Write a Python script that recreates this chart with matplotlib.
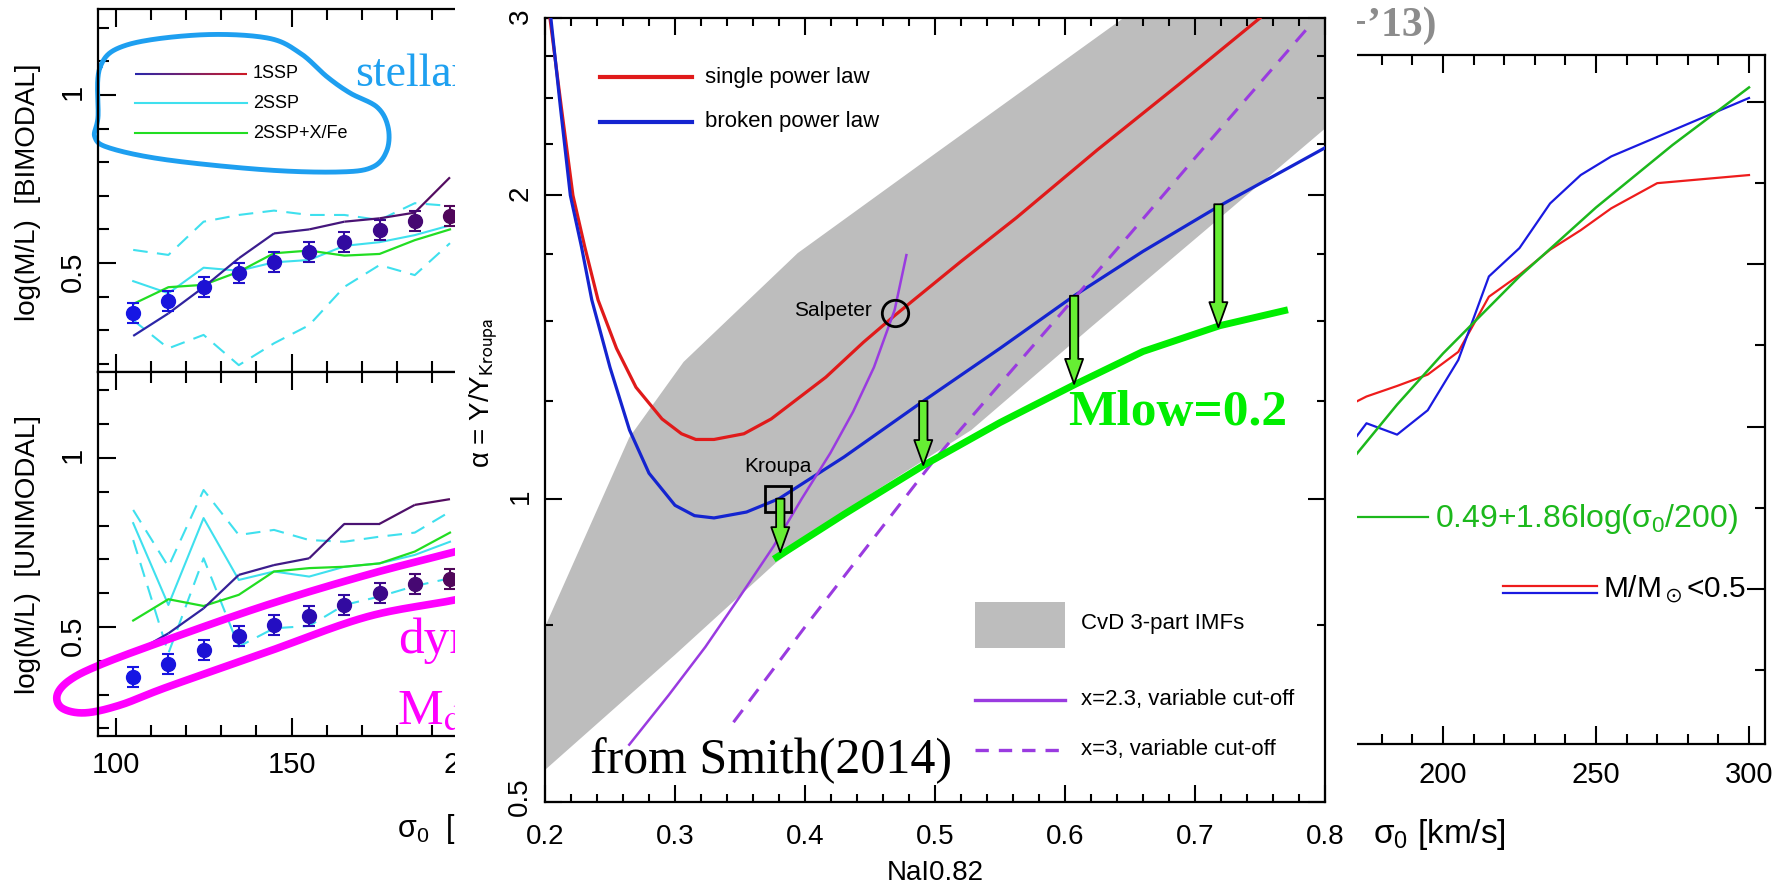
import numpy as np
import matplotlib
matplotlib.use('Agg')
import matplotlib.pyplot as plt
from matplotlib.transforms import Affine2D
from matplotlib.lines import Line2D
from matplotlib.patches import Rectangle
from matplotlib.collections import LineCollection
from matplotlib.ticker import FixedLocator, FixedFormatter

W, H = 1791, 890
plt.rcParams['font.family'] = ['Liberation Sans', 'DejaVu Sans']
plt.rcParams['mathtext.fontset'] = 'dejavusans'
plt.rcParams['mathtext.default'] = 'regular'

# ---------------- left panels (log M/L vs sigma0) ----------------
sigma_bins = [105, 115, 125, 135, 145, 155, 165, 175, 185, 195]
dot_colors = ['#1616e4', '#1814de', '#1c12d4', '#2010cc', '#240ec2', '#2a0cb2',
              '#320aa0', '#3c088a', '#460872', '#50065a']
dot_err = 0.03
bim_dots = [0.350, 0.387, 0.429, 0.471, 0.504, 0.532, 0.563, 0.598, 0.625, 0.640]
bim_1ssp = [0.283, 0.350, 0.428, 0.514, 0.588, 0.600, 0.623, 0.633, 0.650, 0.755]
bim_2ssp = [0.446, 0.410, 0.486, 0.477, 0.502, 0.509, 0.551, 0.562, 0.583, 0.612]
bim_2ssp_hi = [0.539, 0.524, 0.623, 0.643, 0.656, 0.643, 0.643, 0.628, 0.678, 0.670]
bim_2ssp_lo = [0.330, 0.246, 0.286, 0.196, 0.261, 0.315, 0.429, 0.494, 0.464, 0.559]
bim_xfe = [0.378, 0.428, 0.435, 0.474, 0.529, 0.537, 0.522, 0.527, 0.568, 0.600]

uni_dots = [0.353, 0.390, 0.432, 0.474, 0.506, 0.533, 0.565, 0.601, 0.627, 0.641]
uni_1ssp = [0.422, 0.481, 0.555, 0.654, 0.683, 0.703, 0.805, 0.805, 0.861, 0.878]
uni_2ssp = [0.807, 0.565, 0.822, 0.639, 0.664, 0.649, 0.678, 0.688, 0.713, 0.752]
uni_2ssp_hi = [0.846, 0.678, 0.905, 0.772, 0.787, 0.757, 0.752, 0.767, 0.779, 0.841]
uni_2ssp_lo = [0.757, 0.422, 0.703, 0.442, 0.496, 0.503, 0.565, 0.590, 0.621, 0.644]
uni_xfe = [0.519, 0.582, 0.562, 0.595, 0.664, 0.674, 0.678, 0.688, 0.723, 0.779]
left_legend = ['1SSP', '2SSP', '2SSP+X/Fe']

# hand-drawn highlight outlines (annotation shapes, in data units of left panels)
cyan_loop_s = [95.6, 103.2, 124.0, 143.0, 152.4, 160.1, 166.6, 174.3, 177.4, 177.1,
               173.1, 163.8, 143.0, 114.6, 98.4, 94.1, 95.0, 95.6]
cyan_loop_v = [1.083, 1.149, 1.179, 1.170, 1.125, 1.054, 1.006, 0.964, 0.905, 0.836,
               0.786, 0.771, 0.777, 0.807, 0.842, 0.875, 0.935, 1.006]
mag_loop_s = [214.9, 196.4, 171.4, 143.0, 114.6, 95.6, 87.0, 83.4, 84.8, 91.3, 101.3,
              114.6, 143.0, 171.4, 196.4, 214.9]
mag_loop_v = [0.772, 0.722, 0.654, 0.565, 0.462, 0.388, 0.343, 0.299, 0.260, 0.246,
              0.269, 0.322, 0.426, 0.530, 0.580, 0.624]

# ---------------- middle panel (Smith 2014) ----------------
red_x = [0.2038, 0.2125, 0.2215, 0.2305, 0.2408, 0.255, 0.27, 0.29, 0.305, 0.316, 0.33,
         0.353, 0.374, 0.416, 0.445, 0.469, 0.52, 0.5625, 0.625, 0.688, 0.75]
red_y = [3.0, 2.45, 2.0, 1.78, 1.575, 1.41, 1.29, 1.20, 1.16, 1.145, 1.145,
         1.16, 1.20, 1.32, 1.43, 1.52, 1.72, 1.90, 2.22, 2.58, 3.0]
blue_x = [0.2045, 0.2118, 0.2195, 0.228, 0.236, 0.25, 0.265, 0.28, 0.30, 0.315, 0.33,
          0.355, 0.38, 0.43, 0.491, 0.55, 0.607, 0.66, 0.718, 0.8]
blue_y = [3.0, 2.45, 2.0, 1.78, 1.575, 1.35, 1.17, 1.06, 0.985, 0.962, 0.957,
          0.97, 1.0, 1.10, 1.25, 1.41, 1.59, 1.76, 1.95, 2.23]
mlow_x = [0.376, 0.43, 0.4916, 0.55, 0.6085, 0.66, 0.719, 0.7715]
mlow_y = [0.871, 0.965, 1.08, 1.19, 1.30, 1.40, 1.485, 1.54]
cut23_x = [0.2648, 0.295, 0.3233, 0.35, 0.3756, 0.3975, 0.4195, 0.437, 0.453, 0.469, 0.478]
cut23_y = [0.57, 0.638, 0.7125, 0.80, 0.896, 1.0, 1.11, 1.22, 1.35, 1.54, 1.745]
cut3_x = [0.345, 0.40, 0.45, 0.50, 0.55, 0.60, 0.65, 0.70, 0.75, 0.79]
cut3_y = [0.60, 0.746, 0.904, 1.095, 1.30, 1.543, 1.831, 2.179, 2.586, 2.966]
band_up_x = [0.2, 0.2648, 0.3066, 0.3944, 0.5, 0.645, 0.8]
band_up_y = [0.746, 1.15, 1.367, 1.753, 2.2, 3.0, 3.0]
band_lo_x = [0.8, 0.7, 0.62, 0.528, 0.45, 0.3777, 0.30, 0.2]
band_lo_y = [2.33, 1.81, 1.48, 1.17, 1.01, 0.864, 0.70, 0.538]
arrow_x = [0.381, 0.491, 0.607, 0.718]
arrow_top = [1.0, 1.25, 1.59, 1.96]
arrow_tip = [0.885, 1.08, 1.30, 1.48]
salpeter = (0.469, 1.53)
kroupa = (0.379, 1.0)
mid_legend = ['single power law', 'broken power law', 'CvD 3-part IMFs',
              'x=2.3, variable cut-off', 'x=3, variable cut-off']

# ---------------- right panel ----------------
sig_r = [165, 175, 185, 195, 205, 215, 225, 235, 245, 255, 270, 300]
red_r = [0.418, 0.437, 0.450, 0.464, 0.492, 0.560, 0.587, 0.618, 0.642, 0.669, 0.700, 0.710]
blue_r = [0.354, 0.404, 0.390, 0.420, 0.482, 0.585, 0.620, 0.675, 0.710, 0.733, 0.757, 0.805]
fit_sig = [165, 185, 200, 225, 250, 275, 300]
fit_val = [0.335, 0.427, 0.49, 0.585, 0.67, 0.747, 0.818]


def smooth(xs, ys, n=24, closed=True):
    P = np.column_stack([xs, ys]).astype(float)
    if not closed:
        P = np.vstack([2 * P[0] - P[1], P, 2 * P[-1] - P[-2]])
    m = len(P)
    rng = range(m) if closed else range(1, m - 2)
    out = []
    t = np.linspace(0, 1, n, endpoint=False)[:, None]
    for i in rng:
        p0, p1, p2, p3 = P[i - 1], P[i], P[(i + 1) % m], P[(i + 2) % m]
        out.append(0.5 * (2 * p1 + (-p0 + p2) * t + (2 * p0 - 5 * p1 + 4 * p2 - p3) * t ** 2
                          + (-p0 + 3 * p1 - 3 * p2 + p3) * t ** 3))
    out = np.vstack(out)
    out = np.vstack([out, out[:1]]) if closed else np.vstack([out, P[-2]])
    return out[:, 0], out[:, 1]


fig = plt.figure(figsize=(W / 100, H / 100), dpi=100)
px = Affine2D().scale(1 / W, -1 / H).translate(0, 1) + fig.transFigure


def box(x0, y0, x1, y1):
    return [x0 / W, 1 - y1 / H, (x1 - x0) / W, (y1 - y0) / H]


# ======== left panels ========
axT = fig.add_axes(box(98, 9, 696, 372), zorder=1)
axB = fig.add_axes(box(98, 372, 696, 736), zorder=1)
cyan = '#3fe0ee'
green_l = '#22dd22'
for ax, dots, l1, l2, hi, lo, xf, lab, ylim in [
        (axT, bim_dots, bim_1ssp, bim_2ssp, bim_2ssp_hi, bim_2ssp_lo, bim_xfe,
         'log(M/L)  [BIMODAL]', (0.1756, 1.256)),
        (axB, uni_dots, uni_1ssp, uni_2ssp, uni_2ssp_hi, uni_2ssp_lo, uni_xfe,
         'log(M/L)  [UNIMODAL]', (0.1775, 1.254))]:
    ax.set_xlim(95, 264.9)
    ax.set_ylim(*ylim)
    ax.plot(sigma_bins, hi, color=cyan, lw=1.5, ls=(0, (7, 4.5)))
    ax.plot(sigma_bins, lo, color=cyan, lw=1.5, ls=(0, (7, 4.5)))
    ax.plot(sigma_bins, l2, color=cyan, lw=1.5)
    ax.plot(sigma_bins, xf, color=green_l, lw=1.6)
    pts = np.column_stack([sigma_bins, l1])
    segs = np.stack([pts[:-1], pts[1:]], axis=1)
    c0, c1 = np.array([0.17, 0.15, 0.66]), np.array([0.33, 0.05, 0.38])
    cols = [c0 + (c1 - c0) * f for f in np.linspace(0, 1, len(segs))]
    ax.add_collection(LineCollection(segs, colors=cols, lw=1.6))
    for s, v, c in zip(sigma_bins, dots, dot_colors):
        ax.errorbar(s, v, yerr=dot_err, fmt='o', color=c, ms=10, capsize=4,
                    elinewidth=1.5, capthick=1.5)
    ax.xaxis.set_major_locator(FixedLocator([100, 150, 200]))
    ax.xaxis.set_minor_locator(FixedLocator(list(range(100, 265, 10))))
    ax.yaxis.set_major_locator(FixedLocator([0.5, 1.0]))
    ax.yaxis.set_major_formatter(FixedFormatter(['0.5', '1']))
    ax.yaxis.set_minor_locator(FixedLocator([0.2, 0.3, 0.4, 0.6, 0.7, 0.8, 0.9, 1.1, 1.2]))
    ax.tick_params(which='both', direction='in', top=True, right=False, width=1.5,
                   labelsize=21)
    ax.tick_params(which='major', length=13)
    ax.tick_params(which='minor', length=8)
    ax.tick_params(axis='y', labelrotation=90, pad=8)
    ax.tick_params(axis='x', pad=11)
    for sp in ax.spines.values():
        sp.set_linewidth(1.6)
    ax.text(28, 192 if ax is axT else 554, lab, transform=px, rotation=90,
            ha='center', va='center', fontsize=20)
axT.tick_params(axis='x', labelbottom=False)

# legend of the top panel
leg_y = [74, 103, 133]
lx = np.linspace(135, 247, 30)
lsegs = np.stack([np.column_stack([lx[:-1], [leg_y[0]] * 29]),
                  np.column_stack([lx[1:], [leg_y[0]] * 29])], axis=1)
c0, c1 = np.array([0.17, 0.15, 0.66]), np.array([0.8, 0.1, 0.15])
lcols = [c0 + (c1 - c0) * f for f in np.linspace(0, 1, 29)]
axT.add_collection(LineCollection(lsegs, colors=lcols, lw=1.5, transform=px))
axT.add_line(Line2D([135, 247], [leg_y[1]] * 2, color=cyan, lw=1.5, transform=px))
axT.add_line(Line2D([135, 247], [leg_y[2]] * 2, color=green_l, lw=1.5, transform=px))
for yy, t in zip(leg_y, left_legend):
    axT.text(253, yy, t, transform=px, fontsize=13, va='center', ha='left')

# highlight loops and annotations
lxs, lys = smooth(cyan_loop_s[:-1], cyan_loop_v[:-1])
axT.plot(lxs, lys, color='#1e9ff0', lw=3.5, clip_on=False, solid_capstyle='round')
axT.text(355, 86, 'stellar', transform=px, fontsize=33, color='#1ea0f0',
         family=['Liberation Serif'], va='baseline')
mxs, mys = smooth(mag_loop_s, mag_loop_v, closed=False)
axB.plot(mxs, mys, color='#ff00ff', lw=5.5, clip_on=False, solid_capstyle='round')
axB.text(398, 653, 'dyn', transform=px, fontsize=37, color='#ff00ff',
         family=['Liberation Serif'], va='baseline')
axB.text(397, 725, r'M$_{\rm dyn}$', transform=px, fontsize=37, color='#ff00ff',
         family=['Liberation Serif'], math_fontfamily='stix', va='baseline')
axB.text(397, 829, r'$\sigma_0$  [km/s]', transform=px, fontsize=22, va='center', ha='left')

# ======== right panel ========
axR = fig.add_axes(box(1250, 55, 1765, 744), zorder=1)
axR.set_xlim(136.93, 305.23)
axR.set_ylim(0.0086, 0.858)
axR.plot(sig_r, red_r, color='#ee1c1c', lw=1.6)
axR.plot(sig_r, blue_r, color='#1a1ae0', lw=1.6)
axR.plot(fit_sig, fit_val, color='#1cb81c', lw=1.8)
axR.xaxis.set_major_locator(FixedLocator([200, 250, 300]))
axR.xaxis.set_minor_locator(FixedLocator(list(range(140, 305, 10))))
axR.yaxis.set_major_locator(FixedLocator([0.2, 0.4, 0.6, 0.8]))
axR.yaxis.set_minor_locator(FixedLocator([0.1, 0.3, 0.5, 0.7]))
axR.tick_params(which='both', direction='in', top=True, right=True, width=1.5,
                labelsize=21, labelleft=False)
axR.tick_params(which='major', length=13)
axR.tick_params(which='minor', length=7)
axR.tick_params(axis='x', pad=12)
for sp in axR.spines.values():
    sp.set_linewidth(1.6)
axR.add_line(Line2D([1300, 1428], [517, 517], color='#1cb81c', lw=1.6, transform=px))
axR.text(1435, 519, r'0.49+1.86log($\sigma_0$/200)', transform=px, fontsize=23,
         color='#1cb81c', va='center', ha='left')
axR.add_line(Line2D([1503, 1597], [586, 586], color='#ee1c1c', lw=1.6, transform=px))
axR.add_line(Line2D([1503, 1597], [593, 593], color='#1a1ae0', lw=1.6, transform=px))
axR.text(1603, 590, r'M/M$_\odot$<0.5', transform=px, fontsize=21.5, va='center', ha='left')
axR.text(1373, 834, r'$\sigma_0$ [km/s]', transform=px, fontsize=24, va='center', ha='left')
fig.text(1437, 36, '(Cappellari+\u201913)', transform=px, fontsize=30, color='#8c8c8c',
         family=['Liberation Serif'], weight='bold', ha='right', va='baseline', zorder=1)

# ======== white backdrop of the middle figure ========
fig.add_artist(Rectangle((455 / W, 0), (1357 - 455) / W, 1, transform=fig.transFigure,
                         facecolor='white', edgecolor='none', zorder=2))

# ======== middle panel ========
axM = fig.add_axes(box(545, 18, 1325, 802), zorder=3)
axM.set_yscale('log')
axM.set_xlim(0.2, 0.8)
axM.set_ylim(0.5, 3.0)
band_x = band_up_x + band_lo_x
band_y = band_up_y + band_lo_y
axM.fill(band_x, band_y, color='#bdbdbd', lw=0, zorder=1)
axM.plot(red_x, red_y, color='#e01a1a', lw=2.3, zorder=3)
axM.plot(blue_x, blue_y, color='#1424d0', lw=2.3, zorder=3)
axM.plot(cut23_x, cut23_y, color='#9a3be0', lw=1.8, zorder=3)
axM.plot(cut3_x, cut3_y, color='#9a3be0', lw=2.2, ls=(0, (5, 3.5)), zorder=3)
axM.plot(mlow_x, mlow_y, color='#00ee00', lw=5, zorder=4, solid_capstyle='butt')
axM.plot(*salpeter, marker='o', ms=19, mfc='none', mec='black', mew=2, zorder=5)
axM.plot(*kroupa, marker='s', ms=19, mfc='none', mec='black', mew=2, zorder=5)
for xa, yt, yb in zip(arrow_x, arrow_top, arrow_tip):
    axM.annotate('', xy=(xa, yb), xytext=(xa, yt), zorder=6,
                 arrowprops=dict(arrowstyle='simple,head_length=0.9,head_width=0.65,tail_width=0.3',
                                 fc='#66ee33', ec='black', lw=1.3, mutation_scale=20,
                                 shrinkA=0, shrinkB=0))
axM.xaxis.set_major_locator(FixedLocator([0.2, 0.3, 0.4, 0.5, 0.6, 0.7, 0.8]))
axM.xaxis.set_major_formatter(FixedFormatter(['0.2', '0.3', '0.4', '0.5', '0.6', '0.7', '0.8']))
axM.xaxis.set_minor_locator(FixedLocator(list(np.round(np.arange(0.2, 0.81, 0.02), 2))))
axM.yaxis.set_major_locator(FixedLocator([0.5, 1, 2, 3]))
axM.yaxis.set_major_formatter(FixedFormatter(['', '1', '2', '3']))
axM.yaxis.set_minor_locator(FixedLocator([0.75, 1.25, 1.5, 1.75, 2.25, 2.5, 2.75]))
axM.yaxis.set_minor_formatter(FixedFormatter([''] * 7))
axM.tick_params(which='both', direction='in', top=True, right=True, width=1.5,
                labelsize=20)
axM.tick_params(which='major', length=12)
axM.tick_params(which='minor', length=6)
axM.tick_params(axis='y', labelrotation=90, pad=8)
axM.tick_params(axis='x', pad=16)
for sp in axM.spines.values():
    sp.set_linewidth(1.6)
axM.text(520, 797, '0.5', transform=px, rotation=90, fontsize=20, ha='center', va='center')
axM.text(935, 873, 'NaI0.82', transform=px, fontsize=20, ha='center', va='center')
axM.text(484, 393, r'$\alpha$ = $\Upsilon$/$\Upsilon_{\mathsf{Kroupa}}$', transform=px,
         rotation=90, fontsize=20, ha='center', va='center', math_fontfamily='stix')

# legend of the middle panel
axM.add_line(Line2D([600, 692], [77, 77], color='#e01a1a', lw=3, transform=px))
axM.add_line(Line2D([600, 692], [122, 122], color='#1424d0', lw=3, transform=px))
axM.text(705, 77, mid_legend[0], transform=px, fontsize=16, va='center')
axM.text(705, 122, mid_legend[1], transform=px, fontsize=16, va='center')
axM.add_patch(Rectangle((975, 602), 90, 46, transform=px, facecolor='#bdbdbd',
                        edgecolor='none'))
axM.text(1081, 624, mid_legend[2], transform=px, fontsize=16, va='center')
axM.add_line(Line2D([975, 1065], [700, 700], color='#9a3be0', lw=2.4, transform=px))
axM.add_line(Line2D([975, 1065], [750, 750], color='#9a3be0', lw=2.4, ls=(0, (4, 3)),
                    transform=px))
axM.text(1081, 700, mid_legend[3], transform=px, fontsize=16, va='center')
axM.text(1081, 750, mid_legend[4], transform=px, fontsize=16, va='center')
axM.text(872, 310, 'Salpeter', transform=px, fontsize=15, va='center', ha='right')
axM.text(778, 467, 'Kroupa', transform=px, fontsize=15, va='center', ha='center')
axM.text(1068, 425, 'Mlow=0.2', transform=px, fontsize=37, color='#00ee00',
         family=['Liberation Serif'], weight='bold', va='baseline')
axM.text(590, 773, 'from Smith(2014)', transform=px, fontsize=36, color='black',
         family=['Liberation Serif'], va='baseline')

fig.savefig('out.png', dpi=100)
